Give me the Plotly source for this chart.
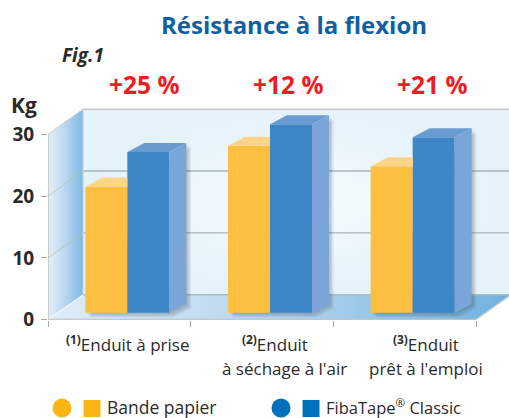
import plotly.graph_objects as go

# ---- data ----
group_labels = [["<sup><b>(1)</b></sup>Enduit à prise"],
                ["<sup><b>(2)</b></sup>Enduit", "à séchage à l'air"],
                ["<sup><b>(3)</b></sup>Enduit", "prêt à l'emploi"]]
bande_papier = [20.4, 27.0, 23.7]
fibatape = [26.0, 30.5, 28.4]
gains = ["+25 %", "+12 %", "+21 %"]
y_ticks = [0, 10, 20, 30]

W, H = 509, 418
LAYOUT_H = 432                  # measured: this layout height fills the 418 px window
X0_PX, Y0_PX = 48, 319          # origin of the front axes
PX_X = 142.67                   # px per category
PX_Y = 6.167                    # px per kg
TOP_PX = 105

FONT = "Open Sans"
DARK = "#2b2a29"
ORANGE, ORANGE_TOP = "#fdbf40", "#fdd587"
BLUE, BLUE_TOP, BLUE_SIDE = "#3d87c7", "#6a9bd0", "#7ba4d8"

xmax = (W - X0_PX) / PX_X
ymax = (Y0_PX - TOP_PX) / PX_Y
WALL_DX, WALL_DY = 35 / PX_X, 25 / PX_Y
BAR_DX, BAR_DY = 17 / PX_X, 9 / PX_Y
BAR_W = 42 / PX_X
BASE = 7 / PX_Y
CENTER = 0.556


def px(x): return x / W
def py(y): return 1 - y / H


fig = go.Figure()


def poly(xs, ys, color=None, grad=None, axes=("x", "y")):
    fig.add_trace(go.Scatter(
        x=xs + xs[:1], y=ys + ys[:1], mode="lines", fill="toself",
        fillcolor=color, fillgradient=grad, line=dict(width=0),
        hoverinfo="skip", showlegend=False, xaxis=axes[0], yaxis=axes[1]))


def line(xs, ys, color, width):
    fig.add_trace(go.Scatter(x=xs, y=ys, mode="lines", line=dict(color=color, width=width),
                             hoverinfo="skip", showlegend=False))


# walls
poly([WALL_DX, 3 + WALL_DX, 3 + WALL_DX, WALL_DX],
     [WALL_DY, WALL_DY, 30 + WALL_DY, 30 + WALL_DY],
     grad=dict(type="radial", colorscale=[[0, "#f6fbfe"], [1, "#e4f2fa"]]))
poly([0, 3, 3 + WALL_DX, WALL_DX], [0, 0, WALL_DY, WALL_DY],
     grad=dict(type="horizontal",
               colorscale=[[0, "#dfedf8"], [0.5, "#b5d5ef"], [1, "#6fb2dd"]]))
poly([0, WALL_DX, WALL_DX, 0], [0, WALL_DY, 30 + WALL_DY, 30],
     grad=dict(type="horizontal",
               colorscale=[[0, "#e6f0fa"], [0.5, "#b9d6ef"], [1, "#7db9e3"]]))

# grid and frame
for v in (10, 20):
    line([WALL_DX, 3 + WALL_DX], [v + WALL_DY] * 2, "#a9b5b6", 1.4)
    line([0, WALL_DX], [v, v + WALL_DY], "#b8bfa8", 0.8)
line([WALL_DX, 3 + WALL_DX], [WALL_DY] * 2, "#a9bdbd", 1.4)
line([WALL_DX, 3 + WALL_DX], [30 + WALL_DY] * 2, "#c6c8c8", 1.6)
line([WALL_DX, WALL_DX], [WALL_DY, 30 + WALL_DY], "#c6cfd4", 1)
line([0, WALL_DX], [30, 30 + WALL_DY], "#c6c8c8", 1)
line([0, WALL_DX], [0, WALL_DY], "#ffffff", 1)
line([3, 3 + WALL_DX], [0, WALL_DY], "#d0d0d0", 1.2)
line([0, 0], [0, 30], "#bcbcbc", 1.4)
line([0, 3], [0, 0], "#bcbcbc", 1.8)

# soft shadows of the bars, on the walls
for i, (a, b) in enumerate(zip(bande_papier, fibatape)):
    left = i + CENTER - BAR_W
    right = i + CENTER + BAR_W
    for off in (1.5, 3, 4.5):
        ox, oy = off / PX_X, off / PX_Y
        poly([left + ox, right + ox, right + BAR_DX + ox, right + BAR_DX + ox, right + ox],
             [BASE - oy, BASE - oy, BASE + BAR_DY - oy, BASE + b + BAR_DY - oy, BASE + b - oy],
             color="rgba(50,60,70,0.10)")

# front faces
fig.add_trace(go.Bar(x=[i + CENTER - BAR_W / 2 for i in range(3)], y=bande_papier, base=BASE,
                     width=BAR_W, marker=dict(color=ORANGE, line=dict(width=0)),
                     xaxis="x2", yaxis="y2", showlegend=False, name="Bande papier"))
fig.add_trace(go.Bar(x=[i + CENTER + BAR_W / 2 for i in range(3)], y=fibatape, base=BASE,
                     width=BAR_W, marker=dict(color=BLUE, line=dict(width=0)),
                     xaxis="x2", yaxis="y2", showlegend=False, name="FibaTape® Classic"))

# top and side faces
for i, (a, b) in enumerate(zip(bande_papier, fibatape)):
    c = i + CENTER
    ta, tb = BASE + a, BASE + b
    poly([c - BAR_W, c - BAR_W + BAR_DX, c, c], [ta, ta + BAR_DY, ta + BAR_DY, ta],
         color=ORANGE_TOP, axes=("x2", "y2"))
    poly([c, c + BAR_DX, c + BAR_W + BAR_DX, c + BAR_W], [tb, tb + BAR_DY, tb + BAR_DY, tb],
         color=BLUE_TOP, axes=("x2", "y2"))
    poly([c + BAR_W, c + BAR_W + BAR_DX, c + BAR_W + BAR_DX, c + BAR_W],
         [BASE, BASE + BAR_DY, tb + BAR_DY, tb], color=BLUE_SIDE, axes=("x2", "y2"))

notes = []


def note(text, x, y, size, color=DARK, bold=False, italic=False, anchor="center"):
    t = text
    if bold:
        t = "<b>" + t + "</b>"
    if italic:
        t = "<i>" + t + "</i>"
    notes.append(dict(text=t, x=px(x), y=py(y), xref="paper", yref="paper", showarrow=False,
                      xanchor=anchor, yanchor="middle", borderpad=0,
                      font=dict(family=FONT, size=size, color=color)))


note("Résistance à la flexion", 294, 24, 24, "#0f5fa3", bold=True)
note("Fig.1", 61, 55, 19, DARK, bold=True, italic=True, anchor="left")
note("Kg", 10, 105, 21, DARK, bold=True, anchor="left")
for g, xp in zip(gains, (144, 288, 432)):
    note(g, xp, 84, 24.5, "#ed1c24", bold=True)

label_pos = [[(127, 343)], [(275, 343), (284, 368)], [(426, 343), (426, 368)]]
for lines, poss in zip(group_labels, label_pos):
    for t, (xp, yp) in zip(lines, poss):
        note(t, xp, yp, 17)

note("Bande papier", 106, 406, 17.5, anchor="left")
note("FibaTape<sup>®</sup> Classic", 325, 406, 16.5, anchor="left")

shapes = []
for cx, sx, col in ((62, 92, "#fdb515"), (281, 311, "#0071bc")):
    shapes.append(dict(type="circle", xref="paper", yref="paper", x0=px(cx - 9.5), x1=px(cx + 9.5),
                       y0=py(416.5), y1=py(397.5), fillcolor=col, line=dict(width=0)))
    shapes.append(dict(type="rect", xref="paper", yref="paper", x0=px(sx - 8.5), x1=px(sx + 8.5),
                       y0=py(416), y1=py(399), fillcolor=col, line=dict(width=0)))

dom_x = [X0_PX / W, 1]
dom_y = [1 - Y0_PX / H, 1 - TOP_PX / H]
fig.update_layout(
    width=W, height=LAYOUT_H, autosize=False, margin=dict(l=0, r=0, t=0, b=0),
    paper_bgcolor="white", plot_bgcolor="rgba(0,0,0,0)", barmode="overlay",
    font=dict(family=FONT, color=DARK), showlegend=False,
    annotations=notes, shapes=shapes,
    xaxis=dict(domain=dom_x, range=[0, xmax], tickvals=[0, 1, 2, 3], showticklabels=False,
               ticks="outside", ticklen=6, tickcolor="#a8a8a8", tickwidth=1.2, showgrid=False,
               zeroline=False, showline=False, fixedrange=True),
    yaxis=dict(domain=dom_y, range=[0, ymax], tickvals=y_ticks, ticks="outside", ticklen=6,
               tickcolor="#a8a8a8", tickwidth=1.2, showgrid=False, zeroline=False, showline=False,
               ticklabelstandoff=3,
               tickfont=dict(family=FONT, size=19, color=DARK, weight="bold"), fixedrange=True),
    xaxis2=dict(domain=dom_x, range=[0, xmax], overlaying="x", visible=False,
                showticklabels=False, fixedrange=True),
    yaxis2=dict(domain=dom_y, range=[0, ymax], overlaying="y", visible=False,
                showticklabels=False, fixedrange=True),
)
fig.write_html("out.html", config=dict(displayModeBar=False),
               post_script="document.body.style.margin='0';")
